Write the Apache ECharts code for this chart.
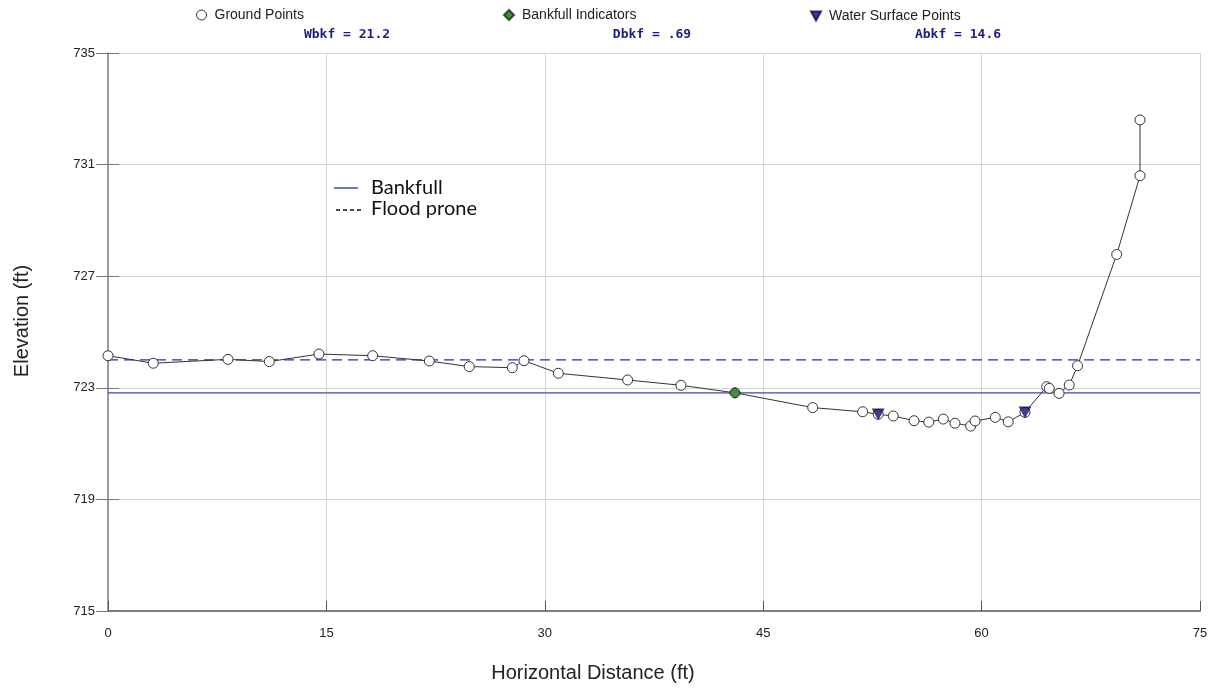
<!DOCTYPE html>
<html>
<head>
<meta charset="utf-8">
<script src="https://cdn.jsdelivr.net/npm/echarts@6/dist/echarts.min.js"></script>
<style>
html,body{margin:0;padding:0;background:#fff;}
#chart{width:1218px;height:692px;}
</style>
</head>
<body>
<div id="chart"></div>
<script>
// ---- Data ----
const groundX = [0, 3.11, 8.24, 11.08, 14.49, 18.18, 22.07, 24.81, 27.77, 28.57, 30.93, 35.69, 39.35, 43.06, 48.40, 51.83, 52.90, 53.93, 55.36, 56.37, 57.37, 58.17, 59.25, 59.55, 60.94, 61.83, 62.98, 64.47, 64.65, 65.32, 66.02, 66.59, 69.28, 70.88, 70.88];
const groundY = [724.15, 723.88, 724.02, 723.94, 724.21, 724.15, 723.96, 723.76, 723.72, 723.97, 723.52, 723.28, 723.09, 722.82, 722.29, 722.14, 722.05, 721.99, 721.82, 721.77, 721.88, 721.73, 721.63, 721.81, 721.94, 721.78, 722.12, 723.04, 722.98, 722.80, 723.10, 723.79, 727.78, 730.60, 732.60];
const bankfullIndicatorX = [43.06];
const bankfullIndicatorY = [722.82];
const waterSurfaceX = [52.90, 62.98];
const waterSurfaceY = [722.05, 722.12];
const bankfullElevation = 722.82;
const floodProneElevation = 724.0;
const xTicks = [0, 15, 30, 45, 60, 75];
const yTicks = [715, 719, 723, 727, 731, 735];
const statLabels = ['Wbkf = 21.2', 'Dbkf = .69', 'Abkf = 14.6'];
const legendNames = ['Ground Points', 'Bankfull Indicators', 'Water Surface Points'];
const lineLegendNames = ['Bankfull', 'Flood prone'];

// ---- Build ----
const xMin = xTicks[0], xMax = xTicks[xTicks.length - 1];
const yMin = yTicks[0], yMax = yTicks[yTicks.length - 1];
const xInt = xTicks[1] - xTicks[0], yInt = yTicks[1] - yTicks[0];
const zip = (a, b) => a.map((v, i) => [v, b[i]]);

const chart = echarts.init(document.getElementById('chart'), null, {renderer: 'canvas'});
const sansFont = "'Liberation Sans', Arial, sans-serif";
const triPath = 'path://M0,0L10,0L5,9Z';
const legendText = {fontFamily: sansFont, fontSize: 14, color: '#222', padding: [0, 0, 0, 3]};
const statFont = "bold 13px 'DejaVu Sans Mono', monospace";

const option = {
  animation: false,
  backgroundColor: '#ffffff',
  grid: {left: 108, top: 53, width: 1092, height: 558, containLabel: false},
  legend: [
    {data: [{name: legendNames[0], icon: 'circle', itemStyle: {color: '#fff', borderColor: '#333', borderWidth: 1}}],
     left: 191, top: 3, itemWidth: 10, itemHeight: 10, selectedMode: false, textStyle: legendText},
    {data: [{name: legendNames[1], icon: 'diamond'}],
     left: 498, top: 3, itemWidth: 10, itemHeight: 10, selectedMode: false, textStyle: legendText},
    {data: [{name: legendNames[2], icon: triPath}],
     left: 805, top: 4, itemWidth: 10, itemHeight: 9, selectedMode: false, textStyle: legendText}
  ],
  xAxis: {
    type: 'value', min: xMin, max: xMax, interval: xInt,
    axisLine: {show: true, lineStyle: {color: '#808080', width: 2}},
    axisTick: {show: true, inside: true, length: 10, lineStyle: {color: '#555'}},
    axisLabel: {fontFamily: sansFont, fontSize: 13, color: '#222', margin: 16},
    splitLine: {show: true, lineStyle: {color: '#d6d6d6', width: 1}}
  },
  yAxis: [
    {
      type: 'value', min: yMin, max: yMax, interval: yInt, position: 'left',
      axisLine: {show: true, lineStyle: {color: '#808080', width: 1.5}},
      axisTick: {show: true, inside: false, length: 12, lineStyle: {color: '#777'}},
      axisLabel: {fontFamily: sansFont, fontSize: 13, color: '#222', margin: 13},
      splitLine: {show: true, lineStyle: {color: '#d6d6d6', width: 1}}
    },
    {
      type: 'value', min: yMin, max: yMax, interval: yInt, position: 'left',
      axisLine: {show: false},
      axisTick: {show: true, inside: true, length: 11, lineStyle: {color: '#777'}},
      axisLabel: {show: false},
      splitLine: {show: false}
    }
  ],
  series: [
    {
      name: 'Bankfull', type: 'line', silent: true, symbol: 'none', z: 1,
      data: [[xMin, bankfullElevation], [xMax, bankfullElevation]],
      lineStyle: {color: '#3f4aae', width: 1.2}
    },
    {
      name: 'Flood prone', type: 'line', silent: true, symbol: 'none', z: 1,
      data: [[xMin, floodProneElevation], [xMax, floodProneElevation]],
      lineStyle: {color: '#1f2fc0', width: 1.2, type: [10, 6]}
    },
    {
      name: legendNames[0], type: 'line', z: 3,
      data: zip(groundX, groundY),
      symbol: 'circle', symbolSize: 10,
      itemStyle: {color: '#ffffff', borderColor: '#333', borderWidth: 1},
      lineStyle: {color: '#333', width: 1}
    },
    {
      name: legendNames[1], type: 'scatter', z: 5,
      data: zip(bankfullIndicatorX, bankfullIndicatorY),
      symbol: 'diamond', symbolSize: 11,
      itemStyle: {color: '#166e16', borderColor: '#0b3a0b', borderWidth: 1}
    },
    {
      name: legendNames[2], type: 'scatter', z: 5,
      data: zip(waterSurfaceX, waterSurfaceY),
      symbol: triPath, symbolSize: [12, 11],
      itemStyle: {color: '#0e0e6a', borderColor: '#080850', borderWidth: 0.5}
    }
  ],
  graphic: [
    // stats row
    {type: 'text', x: 347, y: 35, style: {text: statLabels[0], fill: '#1c1c86', font: statFont, textAlign: 'center', textVerticalAlign: 'middle'}},
    {type: 'text', x: 652, y: 35, style: {text: statLabels[1], fill: '#1c1c86', font: statFont, textAlign: 'center', textVerticalAlign: 'middle'}},
    {type: 'text', x: 958, y: 35, style: {text: statLabels[2], fill: '#1c1c86', font: statFont, textAlign: 'center', textVerticalAlign: 'middle'}},
    // inner line legend
    {type: 'line', shape: {x1: 334, y1: 188, x2: 358, y2: 188}, style: {stroke: '#2f5597', lineWidth: 1.5}},
    {type: 'text', x: 371, y: 188, style: {text: lineLegendNames[0], fill: '#111', font: "20px Lato, 'Open Sans', sans-serif", textVerticalAlign: 'middle'}},
    {type: 'line', shape: {x1: 336, y1: 210, x2: 364, y2: 210}, style: {stroke: '#111', lineWidth: 1.5, lineDash: [4, 3]}},
    {type: 'text', x: 371, y: 209, style: {text: lineLegendNames[1], fill: '#111', font: "20px Lato, 'Open Sans', sans-serif", textVerticalAlign: 'middle'}},
    // axis titles
    {type: 'text', x: 22, y: 321, rotation: Math.PI / 2,
     style: {text: 'Elevation (ft)', fill: '#222', font: "20px 'Liberation Sans', Arial, sans-serif", textAlign: 'center', textVerticalAlign: 'middle'}},
    {type: 'text', x: 593, y: 673,
     style: {text: 'Horizontal Distance (ft)', fill: '#222', font: "20px 'Liberation Sans', Arial, sans-serif", textAlign: 'center', textVerticalAlign: 'middle'}}
  ]
};
chart.setOption(option);
</script>
</body>
</html>
